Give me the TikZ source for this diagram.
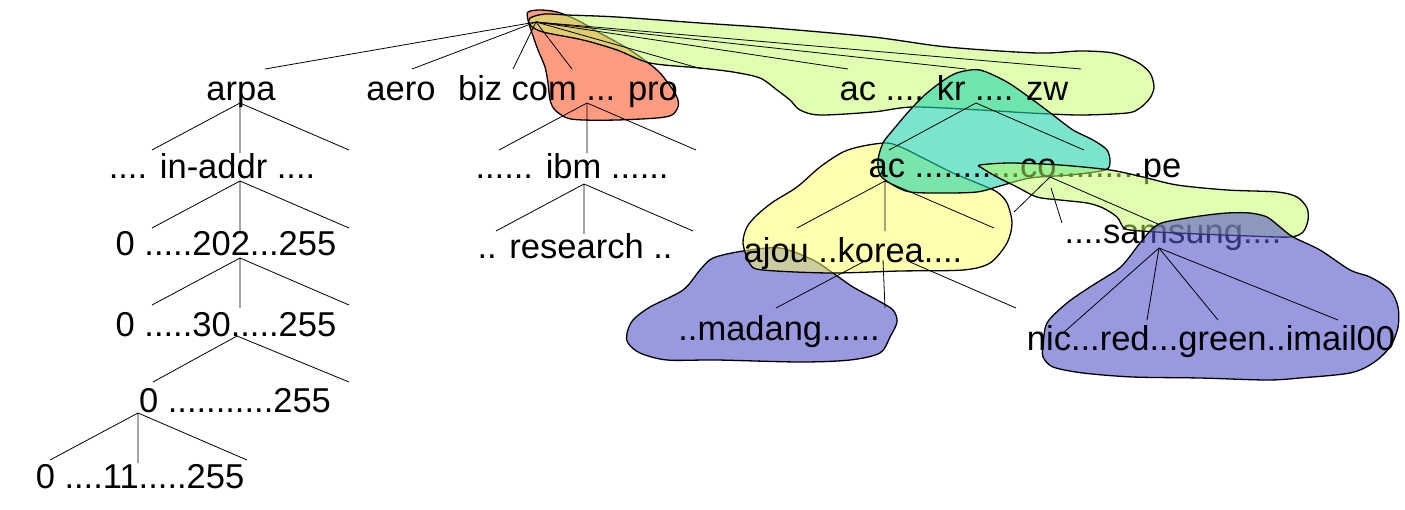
\documentclass[tikz,border=0pt]{standalone}
\usepackage{fontspec}
\setmainfont{Liberation Sans}
\definecolor{salmon}{RGB}{255,155,128}
\definecolor{leaf}{RGB}{193,255,97}
\definecolor{lemon}{RGB}{255,255,97}
\definecolor{aqua}{RGB}{33,212,170}
\definecolor{lilac}{RGB}{85,85,202}
\tikzset{
  lbl/.style={anchor=base,inner sep=0pt,font=\fontsize{34.5}{40}\selectfont},
  blob/.style={draw=black,line width=1.3pt,line join=round},
  link/.style={line width=0.8pt},
}
\begin{document}
\begin{tikzpicture}[x=1pt,y=-1pt]
        \useasboundingbox (0,0) rectangle (1405,509);
        %% zones behind the labels
        \draw[blob,fill=salmon] plot[smooth cycle] coordinates {(528,12) (540,10) (557,12) (577,20) (600,33) (627,48) (647,62) (660,73) (673,90) (678,100) (678,107) (672,115) (657,118) (617,120) (583,120) (567,118) (555,110) (550,100) (548,83) (545,67) (538,50) (532,33) (528,20)};
        \draw[blob,fill=leaf,fill opacity=0.5] plot[smooth cycle] coordinates {(530,18) (545,14) (567,15) (617,17) (700,23) (773,28) (873,37) (947,47) (1037,53) (1080,51) (1113,53) (1137,62) (1150,73) (1154,87) (1150,98) (1140,108) (1127,113) (1080,115) (1030,113) (980,110) (913,107) (873,112) (820,115) (800,110) (790,100) (777,90) (760,78) (733,72) (700,68) (650,63) (617,50) (583,40) (543,32) (530,25)};
        \draw[blob,fill=lilac,fill opacity=0.6] plot[smooth cycle] coordinates {(627,333) (633,320) (650,307) (683,290) (700,270) (713,258) (743,251) (780,248) (813,260) (833,273) (853,287) (877,300) (893,310) (897,322) (890,337) (880,353) (850,360) (800,362) (717,360) (667,360) (640,353) (628,343)};
        \draw[blob,fill=lemon,fill opacity=0.5] plot[smooth cycle] coordinates {(743,243) (747,227) (757,215) (773,202) (797,187) (820,167) (843,152) (863,146) (887,143) (903,148) (927,160) (953,173) (977,183) (997,192) (1007,203) (1012,223) (1007,243) (990,263) (963,270) (900,271) (830,273) (763,270) (750,264)};
        \draw[blob,fill=aqua,fill opacity=0.6] plot[smooth cycle] coordinates {(960,72) (980,70) (1007,82) (1033,100) (1053,115) (1073,130) (1093,140) (1107,150) (1110,162) (1105,170) (1070,175) (1030,178) (1000,186) (977,192) (943,193) (910,192) (893,185) (880,175) (878,160) (883,143) (893,130) (910,110) (927,93) (947,78)};
        %% labels
        \node[lbl] (arpa) at (241,100) {arpa};
        \node[lbl] (aero) at (401,100) {aero};
        \node[lbl] (gtld) at (568,100) {biz com ... pro};
        \node[lbl] (cctld) at (954,100) {ac .... kr .... zw};
        \node[lbl] (inaddr) at (212,178) {.... in-addr ....};
        \node[lbl] (ibm) at (572,178) {...... ibm ......};
        \node[lbl] (krsub) at (1025,177) {ac ...........co.........pe};
        \node[lbl] (oct1) at (226,255) {0 .....202...255};
        \node[lbl] (research) at (575,258) {.. research ..};
        \node[lbl] (acsub) at (853,262) {ajou ..korea....};
        \node[lbl] (cosub) at (1173,243) {....samsung....};
        \node[lbl] (oct2) at (226,336) {0 .....30.....255};
        \node[lbl] (koreasub) at (779,340) {..madang......};
        \node[lbl] (oct3) at (235,412) {0 ...........255};
        \node[lbl] (oct4) at (140,488) {0 ....11.....255};
        %% zones over the labels
        \draw[blob,fill=leaf,fill opacity=0.5] plot[smooth cycle] coordinates {(980,165) (1010,163) (1060,165) (1110,170) (1143,177) (1177,185) (1227,190) (1277,192) (1297,197) (1307,208) (1308,220) (1303,232) (1290,237) (1250,236) (1200,234) (1157,232) (1130,230) (1123,227) (1117,217) (1103,208) (1087,203) (1060,200) (1037,197) (1017,187) (997,177) (982,168)};
        \draw[blob,fill=lilac,fill opacity=0.6] plot[smooth cycle] coordinates {(1127,260) (1140,243) (1153,228) (1165,222) (1200,216) (1227,213) (1250,213) (1267,217) (1280,227) (1293,237) (1320,250) (1350,270) (1370,277) (1390,290) (1398,307) (1398,327) (1390,347) (1373,363) (1350,373) (1300,378) (1267,380) (1200,378) (1133,377) (1083,373) (1053,367) (1043,357) (1043,347) (1047,323) (1067,303) (1090,287) (1117,270)};
        \node[lbl] (samsungsub) at (1211,350) {nic...red...green..imail00};
        %% branch points
        \coordinate (root) at (536,22);
        \coordinate (arpa-b) at (240,103);
        \coordinate (inaddr-b) at (240,181);
        \coordinate (oct1-b) at (240,258);
        \coordinate (oct2-b) at (237,336);
        \coordinate (oct3-b) at (138,413);
        \coordinate (gtld-b) at (587,103);
        \coordinate (ibm-b) at (584,184);
        \coordinate (kr-b) at (976,103);
        \coordinate (ac-b) at (885,181);
        \coordinate (co-b) at (1050,177);
        \coordinate (korea-b) at (884,259);
        \coordinate (samsung-b) at (1159,248);
        %% branches
        \foreach \dx in {-271,-124,-23,36,166,312,430,545}
            \draw[link] (root) -- ++(\dx,47);
        \foreach \n in {arpa-b,inaddr-b,oct1-b,oct3-b,gtld-b,ibm-b,ac-b}
            \draw[link] (\n) -- ++(-88,47) (\n) -- ++(0,50) (\n) -- ++(109,47);
        \draw[link] (oct2-b) -- ++(-84,46) (oct2-b) -- ++(112,46);
        \draw[link] (kr-b) -- ++(-87,47) (kr-b) -- ++(108,47);
        \draw[link] (co-b) -- ++(-36,35) (co-b) -- ++(108,47) (co-b) ++(1,11) -- ++(11,35);
        \draw[link] (korea-b) ++(-21,3) -- ++(-87,46) (korea-b) ++(-1,1) -- ++(2,48) (korea-b) ++(26,3) -- ++(106,46);
        \foreach \dx/\dy in {-96/85,-12/72,59/72,179/72}
            \draw[link] (samsung-b) -- ++(\dx,\dy);
\end{tikzpicture}
\end{document}
